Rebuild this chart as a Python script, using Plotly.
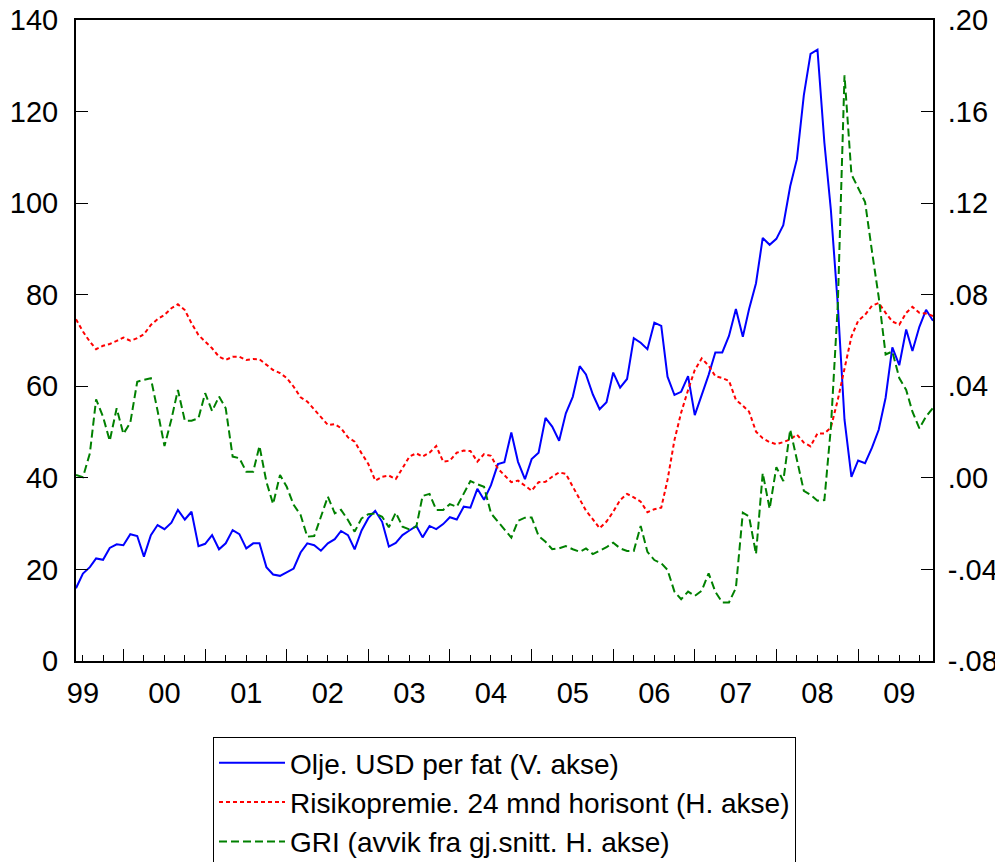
import pandas as pd
import plotly.graph_objects as go

# Månedlige observasjoner, des 1998 - jun 2009
months = pd.date_range("1998-12-01", periods=127, freq="MS")

# Oljepris, USD per fat (venstre akse)
olje = [
    15.9, 19.1, 20.5, 22.4, 22.1, 24.7, 25.5, 25.3, 27.7, 27.3,
    22.8, 27.5, 29.7, 28.8, 30.2, 33.0, 30.9, 32.6, 25.1, 25.6,
    27.5, 24.4, 25.7, 28.6, 27.7, 24.6, 25.7, 25.7, 20.5, 18.9,
    18.6, 19.4, 20.2, 23.7, 25.7, 25.3, 24.1, 25.7, 26.6, 28.4,
    27.5, 24.4, 28.5, 31.2, 32.8, 30.4, 25.0, 25.8, 27.5, 28.5,
    29.5, 27.0, 29.5, 28.8, 29.9, 31.4, 30.9, 33.7, 33.5, 37.6,
    35.2, 38.4, 43.0, 43.4, 49.9, 43.5, 39.7, 44.1, 45.5, 53.1,
    51.2, 48.1, 54.1, 57.7, 64.4, 62.6, 58.2, 55.0, 56.5, 63.0,
    59.7, 61.6, 70.5, 69.5, 68.1, 73.9, 73.2, 62.1, 58.1, 58.8,
    62.2, 53.7, 57.9, 62.5, 67.4, 67.4, 71.0, 76.9, 70.8, 76.9,
    82.5, 92.4, 90.9, 92.2, 95.2, 103.7, 109.6, 123.6, 132.6, 133.5,
    113.2, 98.5, 77.8, 52.7, 40.2, 43.8, 43.2, 46.6, 50.5, 57.5,
    68.5, 64.6, 72.4, 67.7, 73.0, 76.7, 74.3,
]

# Risikopremie, 24 mnd horisont (høyre akse)
risikopremie = [
    .0693, .0639, .0595, .0562, .0577, .0585, .0598, .0613, .0599, .0610,
    .0627, .0668, .0693, .0712, .0741, .0758, .0733, .0675, .0624, .0595,
    .0566, .0529, .0515, .0529, .0529, .0515, .0519, .0518, .0493, .0471,
    .0458, .0436, .0398, .0352, .0333, .0297, .0267, .0231, .0235, .0217,
    .0177, .0158, .0107, .0061, -.0012, .0005, .0010, -.0005, .0042, .0093,
    .0107, .0093, .0110, .0139, .0071, .0075, .0110, .0119, .0117, .0071,
    .0104, .0096, .0040, .0013, -.0019, -.0012, -.0035, -.0056, -.0019, -.0017,
    .0005, .0024, .0017, -.0039, -.0089, -.0143, -.0181, -.0220, -.0191, -.0148,
    -.0097, -.0070, -.0085, -.0104, -.0150, -.0137, -.0130, -.0009, .0165, .0285,
    .0384, .0471, .0522, .0490, .0444, .0436, .0424, .0341, .0315, .0289,
    .0202, .0173, .0156, .0147, .0156, .0168, .0189, .0154, .0138, .0194,
    .0194, .0220, .0341, .0479, .0617, .0686, .0712, .0752, .0764, .0721,
    .0683, .0669, .0721, .0747, .0721, .0718, .0707,
]

# GRI, avvik fra gjennomsnitt (høyre akse)
gri = [
    .0013, .0003, .0107, .0343, .0267, .0162, .0304, .0192, .0241, .0420,
    .0428, .0435, .0293, .0139, .0256, .0384, .0250, .0250, .0260, .0370,
    .0292, .0355, .0304, .0093, .0086, .0027, .0027, .0139, -.0017, -.0114,
    .0013, -.0039, -.0118, -.0162, -.0257, -.0254, -.0170, -.0082, -.0155, -.0140,
    -.0184, -.0235, -.0177, -.0159, -.0155, -.0170, -.0216, -.0152, -.0213, -.0225,
    -.0213, -.0079, -.0070, -.0140, -.0140, -.0115, -.0126, -.0070, -.0014, -.0028,
    -.0039, -.0155, -.0191, -.0220, -.0261, -.0188, -.0174, -.0173, -.0254, -.0279,
    -.0312, -.0308, -.0298, -.0312, -.0323, -.0308, -.0333, -.0318, -.0303, -.0283,
    -.0308, -.0319, -.0319, -.0210, -.0323, -.0359, -.0373, -.0402, -.0497, -.0530,
    -.0497, -.0516, -.0493, -.0417, -.0498, -.0544, -.0544, -.0481, -.0152, -.0169,
    -.0333, .0021, -.0135, .0047, -.0014, .0211, .0081, -.0057, -.0074, -.0100,
    -.0097, .0220, .0756, .1758, .1326, .1266, .1205, .0989, .0790, .0539,
    .0552, .0436, .0384, .0289, .0216, .0268, .0306,
]

years = list(range(1999, 2010))
year_labels = ["99", "00", "01", "02", "03", "04", "05", "06", "07", "08", "09"]
left_ticks = [0, 20, 40, 60, 80, 100, 120, 140]
right_ticks = [-0.08, -0.04, 0.0, 0.04, 0.08, 0.12, 0.16, 0.20]
right_labels = ["-.08", "-.04", ".00", ".04", ".08", ".12", ".16", ".20"]

FONT = "Liberation Sans, Arial, Helvetica, sans-serif"
# siden har 8px body-marg, så figuren gjøres 8px mindre
W, H = 995, 854
L, R, T, B = 68, 70, 12, 201
PLOT_H = H - T - B
LEGEND_TOP = 729  # i figurens piksler

fig = go.Figure()

fig.add_trace(go.Scatter(
    x=months, y=olje, name="Olje. USD per fat (V. akse)",
    mode="lines", line=dict(color="#0000ff", width=2),
    xaxis="x", yaxis="y",
))
fig.add_trace(go.Scatter(
    x=months, y=risikopremie, name="Risikopremie. 24 mnd horisont (H. akse)",
    mode="lines", line=dict(color="#ff0000", width=2, dash="4px,3px"),
    xaxis="x", yaxis="y2",
))
fig.add_trace(go.Scatter(
    x=months, y=gri, name="GRI (avvik fra gj.snitt. H. akse)",
    mode="lines", line=dict(color="#008000", width=2, dash="8px,4px"),
    xaxis="x2", yaxis="y2",
))

xrange = [months[0], months[-1]]
axis_common = dict(showgrid=False, zeroline=False, showline=True,
                   linecolor="black", linewidth=2, ticks="inside",
                   tickcolor="black", tickwidth=1, automargin=False,
                   ticklabeloverflow="allow")

fig.update_layout(
    width=W, height=H,
    margin=dict(l=L, r=R, t=T, b=B, autoexpand=False),
    paper_bgcolor="white", plot_bgcolor="white",
    font=dict(family=FONT, size=29, color="black"),
    showlegend=True,
    xaxis=dict(
        **axis_common, type="date", range=xrange, mirror=True,
        tickvals=[f"{y}-01-01" for y in years], ticktext=year_labels,
        ticklen=6, ticklabelstandoff=5,
        minor=dict(ticks="inside", ticklen=6, tickcolor="black", tickwidth=1,
                   dtick="M3", tick0="1999-01-01"),
    ),
    xaxis2=dict(
        type="date", range=xrange, overlaying="x", anchor="y", side="bottom",
        showgrid=False, zeroline=False, showline=False, showticklabels=False,
        ticks="inside", ticklen=12, tickcolor="black", tickwidth=1,
        tickvals=[f"{y}-07-01" for y in years], automargin=False,
    ),
    yaxis=dict(
        **axis_common, range=[0, 140], tickvals=left_ticks, ticklen=12,
        ticklabelstandoff=10,
    ),
    yaxis2=dict(
        **axis_common, range=[-0.08, 0.20], overlaying="y", side="right",
        tickvals=right_ticks, ticktext=right_labels, ticklen=12,
        ticklabelstandoff=7,
    ),
    legend=dict(
        x=0.5, xanchor="center", y=(T + PLOT_H - LEGEND_TOP) / PLOT_H, yanchor="top",
        bgcolor="white", bordercolor="black", borderwidth=1,
        font=dict(family=FONT, size=28, color="black"),
        itemwidth=66, tracegroupgap=0,
    ),
)

fig.write_html("out.html")
